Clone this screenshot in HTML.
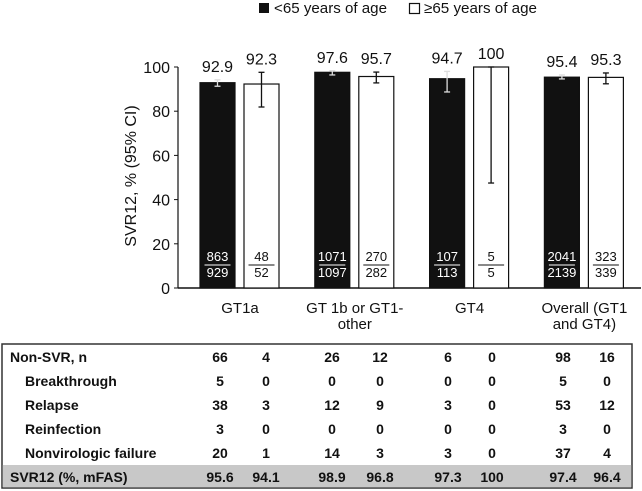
<!DOCTYPE html>
<html><head><meta charset="utf-8"><style>
body{margin:0;background:#fff;width:642px;height:491px;overflow:hidden;font-family:"Liberation Sans",Arial,sans-serif}
svg{position:absolute;left:0;top:0}
</style></head><body>
<svg id="c" width="642" height="491" font-family="Liberation Sans, Arial, sans-serif"></svg>
<script>
const categories=["GT1a","GT 1b or GT1-|other","GT4","Overall (GT1|and GT4)"];
const youngVals=[92.9,97.6,94.7,95.4];
const oldVals=[92.3,95.7,100,95.3];
const youngLo=[91.3,96.4,88.7,94.6];
const youngHi=[94.2,98.3,98.0,96.4];
const oldLo=[81.9,92.8,47.5,92.4];
const oldHi=[97.6,97.7,100,97.3];
const youngNum=["863","1071","107","2041"];
const youngDen=["929","1097","113","2139"];
const oldNum=["48","270","5","323"];
const oldDen=["52","282","5","339"];
const yTicks=[0,20,40,60,80,100];
const rowLabels=["Non-SVR, n","Breakthrough","Relapse","Reinfection","Nonvirologic failure","SVR12 (%, mFAS)"];
const rowVals=[["66","4","26","12","6","0","98","16"],["5","0","0","0","0","0","5","0"],["38","3","12","9","3","0","53","12"],["3","0","0","0","0","0","3","0"],["20","1","14","3","3","0","37","4"],["95.6","94.1","98.9","96.8","97.3","100","97.4","96.4"]];

const svg=document.getElementById('c');
const NS="http://www.w3.org/2000/svg";
function mk(t,a,p){const e=document.createElementNS(NS,t);for(const k in a)e.setAttribute(k,a[k]);(p||svg).appendChild(e);return e;}
const y0=288,yTop=67,xAxis=178;
const Y=v=>y0-(y0-yTop)*v/100;
const bx=i=>200+114.8*i;
const bw=35;

// legend
let l1=mk('rect',{x:259,y:3,width:10,height:10,fill:'#111'});

let t1=mk('text',{x:274,y:13,'font-size':15,fill:'#111',textLength:113,lengthAdjust:'spacingAndGlyphs'});t1.textContent='<65 years of age';

let l2=mk('rect',{x:409.5,y:3.5,width:10,height:10,fill:'#fff',stroke:'#111','stroke-width':1.2});

let t2=mk('text',{x:424,y:13,'font-size':15,fill:'#111',textLength:113,lengthAdjust:'spacingAndGlyphs'});t2.textContent='≥65 years of age';


// axes
let ax=mk('line',{x1:xAxis,y1:yTop,x2:xAxis,y2:y0,stroke:'#111','stroke-width':1.2});

let xa=mk('line',{x1:xAxis,y1:y0,x2:641,y2:y0,stroke:'#111','stroke-width':1.5});

yTicks.forEach(v=>{
  mk('line',{x1:xAxis-4,y1:Y(v),x2:xAxis,y2:Y(v),stroke:'#111'});
  const t=mk('text',{x:170,y:Y(v)+6,'font-size':16,'text-anchor':'end',fill:'#111'});t.textContent=v;
  
});
let yl=mk('text',{x:0,y:0,'font-size':16,'text-anchor':'middle',fill:'#111',transform:'translate(136,176) rotate(-90)'});
yl.textContent='SVR12, % (95% CI)';


function bar(x,v,lo,hi,dark,num,den,name){
  const r=mk('rect',{x:x,y:Y(v),width:bw,height:y0-Y(v),fill:dark?'#111':'#fff',stroke:'#111','stroke-width':1.2});
  
  const cx=x+bw/2,col=dark?'#fff':'#111',ec=dark?'#ddd':'#111';
  mk('line',{x1:cx,y1:Y(hi),x2:cx,y2:Y(lo),stroke:ec,'stroke-width':1.3});
  mk('line',{x1:cx-3,y1:Y(hi),x2:cx+3,y2:Y(hi),stroke:ec,'stroke-width':1.3});
  mk('line',{x1:cx-3,y1:Y(lo),x2:cx+3,y2:Y(lo),stroke:ec,'stroke-width':1.3});
  const vl=mk('text',{x:cx,y:Y(Math.max(hi,v))-8,'font-size':16,'text-anchor':'middle',fill:'#111'});vl.textContent=v;
  
  const n=mk('text',{x:cx,y:261,'font-size':13,'text-anchor':'middle',fill:col});n.textContent=num;
  mk('line',{x1:cx-13,y1:265,x2:cx+13,y2:265,stroke:col,'stroke-width':1});
  const d=mk('text',{x:cx,y:277,'font-size':13,'text-anchor':'middle',fill:col});d.textContent=den;
}
categories.forEach((c,i)=>{
  const b=bx(i);
  bar(b,youngVals[i],youngLo[i],youngHi[i],true,youngNum[i],youngDen[i],'bar-under65-'+i);
  bar(b+44,oldVals[i],oldLo[i],oldHi[i],false,oldNum[i],oldDen[i],'bar-65plus-'+i);
  c.split('|').forEach((s,k)=>{
    const t=mk('text',{x:b+40,y:313+k*16,'font-size':15,'text-anchor':'middle',fill:'#111'});t.textContent=s;
    
  });
});

// table
const tb=mk('rect',{x:2,y:344,width:630,height:144,fill:'#fff',stroke:'#333','stroke-width':1.5});

mk('rect',{x:2.75,y:465,width:628.5,height:22.25,fill:'#c8c8c8'});
const colX=[220,266,332,380,448,492,563,607];
const rowY=[362,386,410,434,458,482];
rowLabels.forEach((lab,r)=>{
  const t=mk('text',{x:(r===0||r===5)?10:25,y:rowY[r],'font-size':14,'font-weight':'bold',fill:'#111'});t.textContent=lab;
  
  rowVals[r].forEach((v,c)=>{
    const e=mk('text',{x:colX[c],y:rowY[r],'font-size':14,'font-weight':'bold','text-anchor':'middle',fill:'#111'});e.textContent=v;
  });
});
</script>
</body></html>
